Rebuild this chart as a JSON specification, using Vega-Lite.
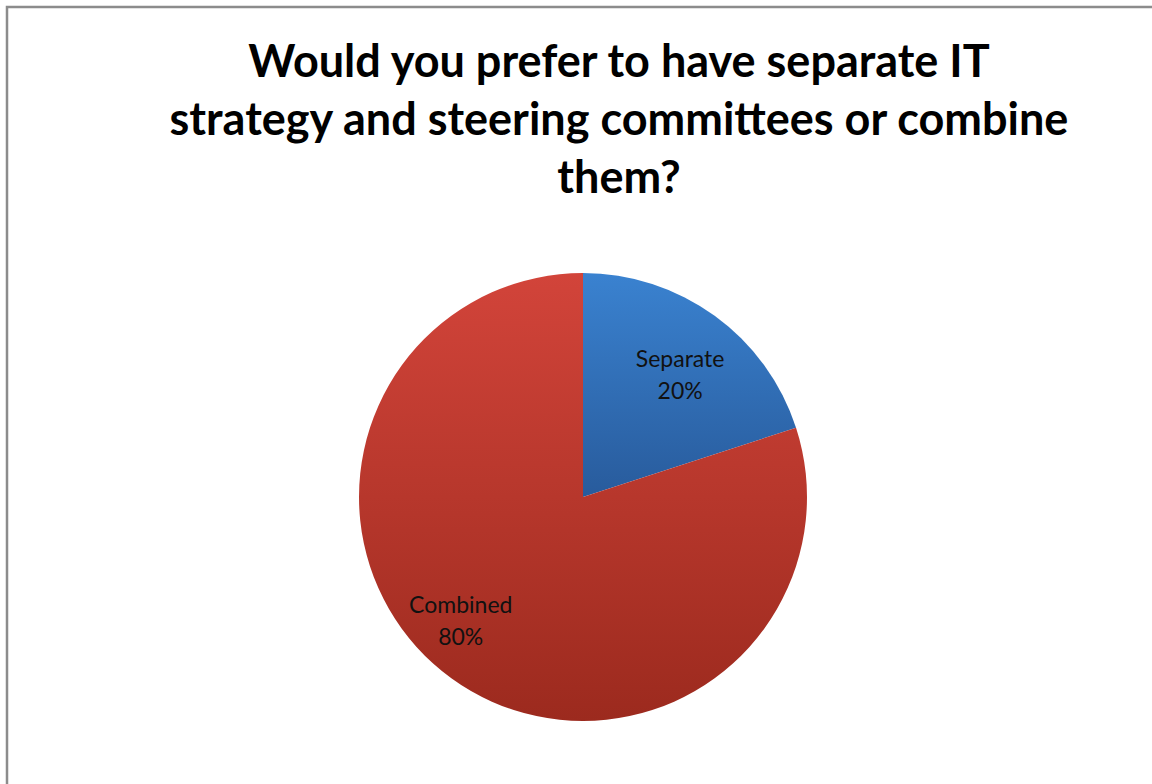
{
  "$schema": "https://vega.github.io/schema/vega-lite/v6.json",
  "width": 1152,
  "height": 980,
  "autosize": {"type": "none"},
  "padding": {"left": 7, "top": 7, "right": 0, "bottom": 0},
  "background": "white",
  "view": {"stroke": "#8c8c8c", "strokeWidth": 2.5},
  "config": {
    "view": {"stroke": "#8c8c8c", "strokeWidth": 2.5},
    "style": {"view": {"stroke": "#8c8c8c", "strokeWidth": 2.5}}
  },
  "title": {
    "text": ["Would you prefer to have separate IT", "strategy and steering committees or combine", "them?"],
    "font": "Lato",
    "fontSize": 45,
    "fontWeight": "bold",
    "color": "#000000",
    "anchor": "middle",
    "frame": "group",
    "baseline": "top",
    "dx": 36,
    "offset": -195,
    "lineHeight": 58
  },
  "data": {
    "values": [
      {"answer": "Separate", "percent": 20, "label": "Separate\n20%"},
      {"answer": "Combined", "percent": 80, "label": "Combined\n80%"}
    ]
  },
  "transform": [
    {"stack": "percent", "as": ["start", "end"], "groupby": []}
  ],
  "layer": [
    {
      "transform": [{"filter": "datum.answer === 'Separate'"}],
      "mark": {
        "type": "arc",
        "outerRadius": 224,
        "color": {
          "gradient": "linear", "x1": 0, "y1": 0, "x2": 0, "y2": 1,
          "stops": [{"offset": 0, "color": "#3a82d0"}, {"offset": 1, "color": "#285b9c"}]
        }
      },
      "encoding": {
        "theta": {"field": "start", "type": "quantitative", "scale": {"domain": [0, 100]}},
        "theta2": {"field": "end"}
      }
    },
    {
      "transform": [{"filter": "datum.answer === 'Combined'"}],
      "mark": {
        "type": "arc",
        "outerRadius": 224,
        "color": {
          "gradient": "linear", "x1": 0, "y1": 0, "x2": 0, "y2": 1,
          "stops": [{"offset": 0, "color": "#d2443a"}, {"offset": 1, "color": "#9c2a1e"}]
        }
      },
      "encoding": {
        "theta": {"field": "start", "type": "quantitative", "scale": {"domain": [0, 100]}},
        "theta2": {"field": "end"}
      }
    },
    {
      "mark": {
        "type": "text",
        "radius": 168,
        "thetaOffset": -0.012,
        "font": "Lato",
        "fontSize": 23,
        "color": "#111111",
        "lineBreak": "\n",
        "lineHeight": 32,
        "baseline": "middle",
        "align": "center"
      },
      "encoding": {
        "theta": {"field": "percent", "type": "quantitative", "stack": true},
        "order": {"field": "start", "type": "quantitative"},
        "text": {"condition": {"test": "datum.answer === 'Separate'", "field": "label"}, "value": ""}
      }
    },
    {
      "mark": {
        "type": "text",
        "radius": 164,
        "thetaOffset": 0.213,
        "font": "Lato",
        "fontSize": 23,
        "color": "#111111",
        "lineBreak": "\n",
        "lineHeight": 32,
        "baseline": "middle",
        "align": "center"
      },
      "encoding": {
        "theta": {"field": "percent", "type": "quantitative", "stack": true},
        "order": {"field": "start", "type": "quantitative"},
        "text": {"condition": {"test": "datum.answer === 'Combined'", "field": "label"}, "value": ""}
      }
    }
  ]
}
